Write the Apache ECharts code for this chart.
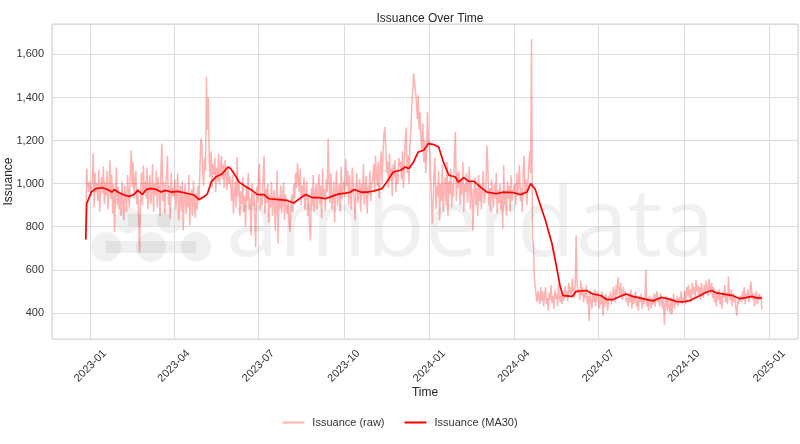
<!DOCTYPE html>
<html><head><meta charset="utf-8">
<script src="https://cdn.jsdelivr.net/npm/echarts@6/dist/echarts.min.js"></script>
<style>html,body{margin:0;padding:0;background:#fff}#c{width:800px;height:444px}</style>
</head><body><div id="c"></div>
<script>
// ---- DATA ----
const rawStart = [2022, 12, 27]; // first daily observation
const raw2022 = [740, 1070, 1005, 960, 1010];
const raw2023 = [
// Jan
985, 940, 1020, 1141, 890, 1050, 960, 1000, 920, 1065, 870, 990, 1030, 955, 1080, 905, 1010, 945, 1060, 880, 975, 1108, 930, 1040, 860, 1000, 775, 950, 1075, 900, 985,
// Feb
880, 960, 850, 1010, 905, 830, 990, 920, 870, 1040, 945, 890, 1065, 1155, 985, 1100, 930, 1020, 1060, 905, 975, 840, 682, 950, 1050, 900, 1085, 960,
// Mar
1010, 930, 1075, 880, 985, 1040, 905, 960, 1090, 870, 1000, 945, 1060, 890, 1030, 975, 850, 1080, 1186, 920, 1010, 860, 965, 1045, 1130, 900, 990, 835, 1050, 940, 980,
// Apr
940, 1020, 880, 960, 1050, 830, 905, 990, 870, 1010, 783, 935, 1000, 860, 960, 890, 1040, 806, 925, 975, 850, 1015, 900, 840, 955, 880, 990, 920, 1080, 1210,
// May
1180, 1050, 990, 1120, 1060, 1496, 1250, 1397, 1100, 1030, 1150, 980, 1090, 1040, 1120, 960, 1075, 1010, 1140, 995, 1060, 1131, 1020, 1090, 980, 1110, 1050, 970, 1080, 1000, 1035,
// Jun
990, 920, 1040, 860, 955, 1010, 890, 1124, 940, 1000, 850, 965, 905, 1030, 870, 945, 800, 990, 920, 1050, 880, 935, 760, 1000, 900, 960, 840, 705, 985, 910,
// Jul
1020, 1093, 880, 950, 900, 1040, 1131, 860, 975, 910, 1000, 820, 945, 890, 1010, 850, 930, 970, 780, 900, 1060, 722, 940, 880, 990, 860, 920, 1005, 830, 950, 890,
// Aug
860, 920, 810, 775, 900, 950, 870, 1000, 930, 1050, 980, 1094, 1020, 960, 1070, 900, 990, 940, 1030, 880, 960, 1010, 850, 940, 800, 736, 980, 900, 1040, 870, 950,
// Sep
1000, 880, 960, 1045, 900, 990, 840, 1070, 930, 975, 870, 1020, 960, 1209, 1000, 910, 1050, 880, 940, 1010, 820, 975, 1060, 900, 950, 1000, 870, 1080, 930, 985,
// Oct
1010, 940, 1116, 990, 1060, 900, 1040, 960, 880, 1075, 1000, 930, 829, 985, 1050, 910, 960, 1020, 870, 1000, 945, 1090, 900, 980, 1035, 860, 990, 950, 1060, 920, 1000,
// Nov
1020, 1090, 960, 1131, 1040, 990, 1100, 930, 1060, 1150, 1000, 1120, 1230, 1263, 1180, 1050, 1100, 980, 1140, 1010, 1070, 940, 1090, 1030, 1110, 960, 1050, 1000, 1120, 1080,
// Dec
1100, 1020, 1150, 980, 1080, 1200, 1260, 1050, 1130, 1000, 1180, 1240, 1350, 1420, 1512, 1470, 1434, 1380, 1300, 1410, 1250, 1330, 1200, 1150, 1280, 1100, 1200, 1050, 1150, 1333, 1180
];
const raw2024 = [
// Jan
1200, 1080, 960, 814, 900, 1050, 1120, 880, 990, 940, 1060, 830, 1000, 920, 1090, 870, 980, 1030, 900, 1100, 850, 1010, 950, 1070, 890, 1000, 940, 1150, 1240, 920, 1050,
// Feb
980, 1060, 900, 1020, 950, 1100, 870, 1000, 960, 1050, 910, 990, 1080, 880, 1010, 940, 783, 960, 1030, 900, 980, 850, 1040, 920, 1000, 880, 970, 1060, 910,
// Mar
940, 1010, 1178, 1060, 900, 980, 870, 1020, 950, 890, 1000, 930, 1050, 860, 970, 910, 1000, 880, 950, 791, 1085, 900, 960, 850, 1010, 930, 990, 870, 1040, 920, 960,
// Apr
960, 1000, 900, 1050, 940, 1010, 1085, 920, 980, 870, 1060, 1130, 950, 1020, 900, 1000, 1080, 1150, 1050, 1670, 740, 730, 566, 520, 480, 450, 500, 470, 440, 520,
// May
455, 500, 430, 480, 520, 440, 470, 410, 495, 460, 530, 445, 480, 420, 505, 465, 490, 430, 540, 470, 450, 510, 440, 485, 460, 525, 475, 500, 455, 540, 490,
// Jun
520, 480, 560, 500, 470, 530, 759, 540, 490, 510, 460, 550, 480, 520, 450, 500, 470, 530, 440, 480, 361, 500, 460, 420, 490, 450, 510, 430, 480, 500,
// Jul
460, 420, 480, 440, 500, 387, 470, 430, 490, 450, 410, 480, 460, 500, 440, 470, 520, 490, 450, 530, 480, 566, 510, 470, 540, 490, 460, 520, 480, 500, 450,
// Aug
470, 430, 490, 450, 510, 420, 480, 440, 470, 500, 430, 460, 410, 480, 450, 490, 420, 470, 440, 460, 600, 430, 470, 410, 480, 450, 420, 470, 440, 490, 430,
// Sep
480, 500, 450, 470, 430, 490, 460, 420, 470, 345, 440, 480, 410, 460, 430, 400, 470, 392, 450, 490, 420, 460, 440, 480, 430, 470, 450, 500, 440, 470,
// Oct
460, 500, 440, 520, 480, 530, 470, 510, 450, 540, 490, 520, 470, 555, 500, 530, 480, 520, 460, 540, 500, 470, 530, 490, 550, 510, 480, 558, 520, 490, 540,
// Nov
470, 520, 450, 490, 430, 500, 460, 510, 440, 480, 420, 500, 470, 530, 450, 490, 440, 569, 480, 460, 510, 430, 490, 450, 470, 420, 387, 460, 440, 480,
// Dec
480, 450, 500, 460, 520, 440, 490, 470, 510, 450, 480, 546, 500, 460, 490, 430, 480, 500, 440, 470, 490, 460, 480, 415
];

const maDates = ['2022-12-27','2022-12-28','2023-01-02','2023-01-07','2023-01-14','2023-01-20','2023-01-24','2023-01-27','2023-02-01','2023-02-07','2023-02-12','2023-02-17','2023-02-21','2023-02-26','2023-03-02','2023-03-07','2023-03-13','2023-03-18','2023-03-23','2023-03-29','2023-04-05','2023-04-17','2023-04-23','2023-04-28','2023-05-03','2023-05-07','2023-05-11','2023-05-16','2023-05-23','2023-05-29','2023-06-01','2023-06-07','2023-06-10','2023-06-17','2023-06-24','2023-06-30','2023-07-07','2023-07-12','2023-07-20','2023-08-01','2023-08-08','2023-08-15','2023-08-21','2023-08-28','2023-09-04','2023-09-11','2023-09-18','2023-09-26','2023-10-03','2023-10-08','2023-10-12','2023-10-19','2023-10-26','2023-11-02','2023-11-11','2023-11-16','2023-11-23','2023-12-01','2023-12-06','2023-12-10','2023-12-15','2023-12-20','2023-12-26','2023-12-31','2024-01-06','2024-01-11','2024-01-16','2024-01-22','2024-01-29','2024-02-01','2024-02-07','2024-02-12','2024-02-18','2024-02-25','2024-03-03','2024-03-13','2024-03-21','2024-04-01','2024-04-08','2024-04-15','2024-04-19','2024-04-24','2024-04-29','2024-05-05','2024-05-12','2024-05-17','2024-05-21','2024-05-24','2024-06-03','2024-06-07','2024-06-18','2024-06-25','2024-07-04','2024-07-10','2024-07-17','2024-07-24','2024-07-31','2024-08-07','2024-08-14','2024-08-21','2024-08-29','2024-09-07','2024-09-16','2024-09-23','2024-09-30','2024-10-07','2024-10-18','2024-10-25','2024-10-31','2024-11-05','2024-11-16','2024-11-23','2024-11-30','2024-12-07','2024-12-13','2024-12-18','2024-12-24'];
const maValues = [741,907,961,977,981,972,961,972,958,946,941,950,969,950,972,978,973,961,969,961,964,953,946,926,938,953,1007,1031,1046,1077,1070,1031,1007,987,969,949,949,930,927,922,910,933,950,935,935,930,941,953,956,961,973,961,961,966,977,1007,1054,1062,1077,1070,1101,1147,1155,1186,1181,1170,1101,1039,1031,1007,1028,1012,1011,984,961,953,961,958,949,961,1000,973,907,829,721,612,519,480,477,500,504,488,480,462,462,476,488,477,470,463,456,473,463,453,451,457,480,496,504,493,485,480,466,471,477,470,470];

const xMin = '2022-11-20 16:00';
const xMax = '2025-01-31 21:00';
const yMin = 279, yMax = 1741;

// ---- BUILD ----
function parseD(s){ const p = s.split(/[- :]/).map(Number); return new Date(p[0], p[1]-1, p[2], p[3]||0, p[4]||0).getTime(); }
const rawAll = raw2022.concat(raw2023, raw2024);
const rawData = rawAll.map((v,i)=>[new Date(rawStart[0], rawStart[1]-1, rawStart[2]+i).getTime(), v]);
const maData = maDates.map((d,i)=>[parseD(d), maValues[i]]);

const FONT = '"Liberation Sans", Arial, sans-serif';
const WM = 'rgba(0,0,0,0.06)';
const chart = echarts.init(document.getElementById('c'));
chart.setOption({
  animation:false,
  backgroundColor:'#fff',
  textStyle:{fontFamily:FONT},
  title:{text:'Issuance Over Time', left:425, top:8, textAlign:'center',
    textStyle:{fontSize:12, fontWeight:'normal', color:'#262626', fontFamily:FONT}},
  grid:{left:52, right:2, top:24, bottom:105, show:true, borderColor:'#d5d5d5', borderWidth:1, containLabel:false, outerBoundsMode:'none'},
  legend:{bottom:11, left:'center', icon:'rect', itemWidth:22, itemHeight:2, itemGap:20,
    textStyle:{fontSize:11, color:'#333', fontFamily:FONT, padding:[0,0,0,3]},
    data:['Issuance (raw)','Issuance (MA30)']},
  graphic:[
    {type:'text', z:1, silent:true, style:{x:226, y:229, text:'amberdata', font:'95px "Open Sans"', fill:WM, verticalAlign:'middle'}},
    {type:'group', z:1, silent:true, children:[
      {type:'circle', shape:{cx:128, cy:220, r:13}, style:{fill:WM}},
      {type:'circle', shape:{cx:170, cy:220, r:13}, style:{fill:WM}},
      {type:'rect', shape:{x:128, y:214, width:42, height:12}, style:{fill:WM}},
      {type:'circle', shape:{cx:106, cy:247, r:15}, style:{fill:WM}},
      {type:'circle', shape:{cx:151, cy:247, r:15}, style:{fill:WM}},
      {type:'circle', shape:{cx:196, cy:247, r:15}, style:{fill:WM}},
      {type:'rect', shape:{x:106, y:241, width:90, height:12}, style:{fill:WM}}
    ]}
  ],
  xAxis:{type:'time', min:parseD(xMin), max:parseD(xMax),
    minInterval:80*86400000, maxInterval:100*86400000,
    name:'Time', nameLocation:'middle', nameGap:48, nameMoveOverlap:false,
    nameTextStyle:{fontSize:12, color:'#262626', fontFamily:FONT},
    axisLine:{show:false}, axisTick:{show:false},
    splitLine:{show:true, lineStyle:{color:'#dcdcdc', width:1}},
    axisLabel:{rotate:45, align:'center', verticalAlign:'middle', margin:27, fontSize:11, color:'#333',
      showMinLabel:false, showMaxLabel:false,
      formatter:function(v){const d=new Date(v); const m=d.getMonth()+1; return d.getFullYear()+'-'+(m<10?'0'+m:m);}}
  },
  yAxis:{type:'value', min:yMin, max:yMax, splitNumber:7,
    name:'Issuance', nameLocation:'middle', nameGap:37, nameMoveOverlap:false,
    nameTextStyle:{fontSize:12, color:'#262626', fontFamily:FONT},
    axisLine:{show:false}, axisTick:{show:false},
    splitLine:{show:true, lineStyle:{color:'#dcdcdc', width:1}},
    axisLabel:{fontSize:11, color:'#333', margin:8, showMinLabel:false, showMaxLabel:false,
      formatter:function(v){return v.toLocaleString('en-US');}}
  },
  series:[
    {name:'Issuance (raw)', type:'line', data:rawData, showSymbol:false, symbol:'none', z:3,
      lineStyle:{color:'rgba(255,0,0,0.3)', width:1.5}, itemStyle:{color:'rgba(255,0,0,0.3)'}},
    {name:'Issuance (MA30)', type:'line', data:maData, showSymbol:false, symbol:'none', z:4,
      lineStyle:{color:'#ff0000', width:1.7}, itemStyle:{color:'#ff0000'}}
  ]
});
</script></body></html>
